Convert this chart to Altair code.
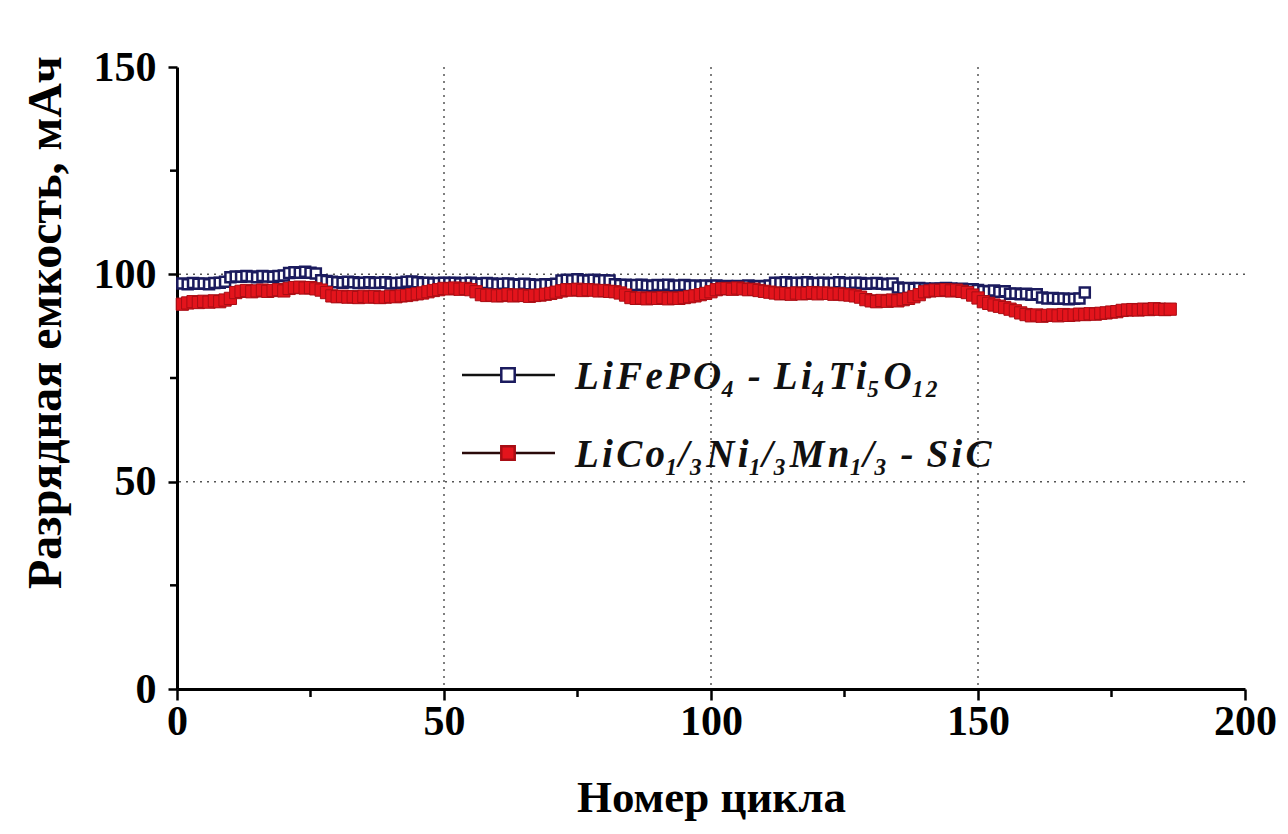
import altair as alt
import pandas as pd

# ---- data ----
blue_cycles = list(range(1, 171))
blue_values = [
    97.8, 97.6, 97.9, 97.7, 97.8, 97.6, 97.9, 98.0, 98.2,
    99.3, 99.5, 99.4, 99.6, 99.5, 99.3, 99.6, 99.5, 99.4, 99.6, 99.7,
    100.3, 100.5, 100.4, 100.6, 100.4, 100.2,
    98.6, 98.4, 98.2, 98.1, 98.0, 98.2, 98.1, 97.9, 98.0, 98.1, 97.9, 98.0,
    98.1, 97.8, 97.9, 98.0, 98.2, 98.3, 98.1, 97.9, 98.0, 97.8, 97.9, 98.0,
    97.9, 98.0, 97.8, 97.9, 98.0, 97.8, 97.7, 97.9, 97.8, 97.6, 97.7, 97.8,
    97.6, 97.5, 97.7, 97.6, 97.5, 97.4, 97.6, 97.5, 97.7,
    98.5, 98.7, 98.6, 98.8, 98.6, 98.5, 98.7, 98.4, 98.6, 98.5,
    97.6, 97.4, 97.5, 97.3, 97.4, 97.5, 97.3, 97.2, 97.4, 97.3, 97.5, 97.2,
    97.3, 97.4, 97.2, 97.3, 97.1, 97.3, 97.2,
    97.3, 97.1, 97.2, 97.0, 97.2, 97.1, 97.3, 97.0, 97.2, 97.1, 97.3,
    98.0, 97.9, 98.1, 97.8, 98.0, 97.9, 98.1, 97.8, 97.9, 98.0, 97.8, 97.9,
    98.1, 97.9, 97.8, 98.0, 97.9, 97.7, 97.8, 97.9, 97.7, 97.6, 97.8,
    96.8, 96.6, 96.7, 96.5, 96.7, 96.6, 96.4, 96.6, 96.5, 96.7, 96.6, 96.4,
    96.5, 96.3, 96.4, 96.2,
    96.0, 95.9, 96.1, 95.8, 95.9,
    95.3, 95.4, 95.2, 95.3, 95.1, 95.2,
    94.4, 94.2, 94.3, 94.1, 94.2, 94.0, 94.1, 94.2,
    95.6,
]

red_cycles = list(range(1, 187))
red_values = [
    92.8, 93.1, 93.4, 93.2, 93.5, 93.3, 93.6, 93.4, 93.8, 94.2,
    95.6, 95.9, 96.1, 95.8, 96.0, 96.2, 95.9, 96.1, 96.3, 96.0,
    96.6, 96.8, 96.9, 96.7, 96.8, 96.5, 96.2, 95.6,
    94.8, 94.6, 94.7, 94.5, 94.6, 94.4, 94.7, 94.5, 94.6, 94.4, 94.5, 94.7,
    94.6, 94.8, 94.9, 95.1, 95.3, 95.5, 95.8, 96.1, 96.3,
    96.6, 96.5, 96.7, 96.4, 96.6, 96.3, 95.8,
    95.1, 94.9, 95.0, 94.8, 94.9, 95.1, 94.8, 95.0, 94.9, 94.7, 94.9, 95.0,
    95.2, 95.4, 95.7, 96.0,
    96.3, 96.2, 96.4, 96.1, 96.3, 96.2, 96.0, 96.1, 95.9, 95.8, 95.5, 95.0,
    94.4, 94.2, 94.3, 94.1, 94.3, 94.2, 94.4, 94.1, 94.3, 94.2, 94.4, 94.6,
    94.8, 95.1, 95.4, 95.8,
    96.3, 96.5, 96.6, 96.4, 96.7, 96.5, 96.3, 96.4, 96.1, 95.9, 95.7,
    95.5, 95.3, 95.4, 95.2, 95.5, 95.3, 95.4, 95.6, 95.3, 95.5, 95.4, 95.2,
    95.3, 95.1, 95.0, 94.8, 94.5,
    93.9, 93.6, 93.4, 93.7, 93.5, 93.8, 93.6, 93.9, 94.2, 94.6, 95.1,
    95.8, 96.0, 96.2, 96.1, 96.3, 96.0, 96.2, 95.9, 95.6, 95.0, 94.3,
    93.4, 93.0, 92.6, 92.3, 92.0, 91.6, 91.2, 90.7, 90.3,
    90.0, 90.2, 89.9, 90.1, 90.2, 90.0, 90.3, 90.1, 90.2, 90.4, 90.3, 90.5,
    90.4, 90.6, 90.7, 90.9, 91.0,
    91.3, 91.4, 91.5, 91.4, 91.6, 91.5, 91.7, 91.6, 91.5, 91.6,
]

x_ticks = [0, 50, 100, 150, 200]
y_ticks = [0, 50, 100, 150]
x_minor = [25, 75, 125, 175]
y_minor = [25, 75, 125]
x_grid = [50, 100, 150]
y_grid = [50, 100]

HS = "\u200a"  # hair space, imitates the wide letter spacing of the original
legend_labels = [
    HS.join(["L", "i", "F", "e", "P", "O\u2084", " -", " L", "i\u2084", "T", "i\u2085", "O\u2081\u2082"]),
    HS.join(["L", "i", "C", "o\u2081/\u2083", "N", "i\u2081/\u2083", "M", "n\u2081/\u2083", " -", " S", "i", "C"]),
]

x_title = "Номер цикла"
y_title = "Разрядная емкость, мАч"

# ---- styling ----
W, H = 1068, 622
FONT = "Liberation Serif"
NAVY = "#1b1b5e"
RED = "#e3141c"
RED_EDGE = "#a80d14"

xs = alt.Scale(domain=[0, 200], nice=False, zero=False)
ys = alt.Scale(domain=[0, 150], nice=False)

blue_df = pd.DataFrame({"cycle": blue_cycles, "cap": blue_values})
red_df = pd.DataFrame({"cycle": red_cycles, "cap": red_values})

x_axis = alt.Axis(values=x_ticks, format="d", grid=False, tickSize=11, tickWidth=2.5,
                  tickColor="black", domainColor="black", domainWidth=3,
                  labelFont=FONT, labelFontWeight="bold", labelFontSize=42,
                  labelColor="black", labelPadding=1, labelFlush=False,
                  title=x_title, titleFont=FONT, titleFontWeight="bold",
                  titleFontSize=45, titleColor="black", titlePadding=33)
y_axis = alt.Axis(values=y_ticks, format="d", grid=False, tickSize=9, tickWidth=2.5,
                  tickColor="black", domainColor="black", domainWidth=3,
                  labelFont=FONT, labelFontWeight="bold", labelFontSize=42,
                  labelColor="black", labelPadding=12, labelFlush=False,
                  title=y_title, titleFont=FONT, titleFontWeight="bold",
                  titleFontSize=48, titleColor="black",
                  titleX=-107, titleY=255, titleBaseline="bottom")


def X(field):
    return alt.X(f"{field}:Q", scale=xs, axis=x_axis)


def Y(field):
    return alt.Y(f"{field}:Q", scale=ys, axis=y_axis)


vgrid = alt.Chart(pd.DataFrame({"cycle": x_grid})).mark_rule(
    color="#555555", strokeWidth=1.5, strokeDash=[2, 5]
).encode(x=X("cycle"))

hgrid = alt.Chart(pd.DataFrame({"cap": y_grid})).mark_rule(
    color="#555555", strokeWidth=1.5, strokeDash=[2, 5]
).encode(y=Y("cap"))

xminor = alt.Chart(pd.DataFrame({"cycle": x_minor})).mark_rule(
    color="black", strokeWidth=2.5
).encode(x=X("cycle"), y=alt.value(H), y2=alt.value(H + 8))

yminor = alt.Chart(pd.DataFrame({"cap": y_minor})).mark_rule(
    color="black", strokeWidth=2.5
).encode(y=Y("cap"), x=alt.value(0), x2=alt.value(-7))

blue_line = alt.Chart(blue_df).mark_line(color=NAVY, strokeWidth=2).encode(
    x=X("cycle"), y=Y("cap"))
blue_pts = alt.Chart(blue_df).mark_point(
    shape="square", filled=True, fill="white", stroke=NAVY, strokeWidth=2.5,
    size=100, opacity=1
).encode(x=X("cycle"), y=Y("cap"))

red_line = alt.Chart(red_df).mark_line(color=RED_EDGE, strokeWidth=2).encode(
    x=X("cycle"), y=Y("cap"))
red_pts = alt.Chart(red_df).mark_point(
    shape="square", filled=True, fill=RED, stroke=RED_EDGE, strokeWidth=1,
    size=150, opacity=1
).encode(x=X("cycle"), y=Y("cap"))

one = pd.DataFrame({"a": [0]})
legend_layers = []
for i, (label, fill, stroke, lc) in enumerate([
        (legend_labels[0], "white", NAVY, "#111111"),
        (legend_labels[1], RED, RED_EDGE, "#2a0a0a")]):
    yy = 308 + i * 78
    legend_layers.append(alt.Chart(one).mark_rule(color=lc, strokeWidth=2.5).encode(
        x=alt.value(285), x2=alt.value(378), y=alt.value(yy)))
    legend_layers.append(alt.Chart(one).mark_point(
        shape="square", filled=True, fill=fill, stroke=stroke, strokeWidth=2.5,
        size=180, opacity=1).encode(x=alt.value(331), y=alt.value(yy)))
    legend_layers.append(alt.Chart(one).mark_text(
        align="left", baseline="middle", font=FONT, fontStyle="italic",
        fontWeight="bold", fontSize=39, color="#111111").encode(
        x=alt.value(398), y=alt.value(yy + 2), text=alt.value(label)))

chart = alt.layer(
    vgrid, hgrid, xminor, yminor, blue_line, blue_pts, red_line, red_pts, *legend_layers
).properties(
    width=W, height=H,
    autosize=alt.AutoSizeParams(type="none"),
    padding={"left": 169, "top": 59, "right": 35, "bottom": 137},
    background="white",
).configure_view(stroke=None)

chart.save("out.html", embed_options={"renderer": "svg", "actions": False})
